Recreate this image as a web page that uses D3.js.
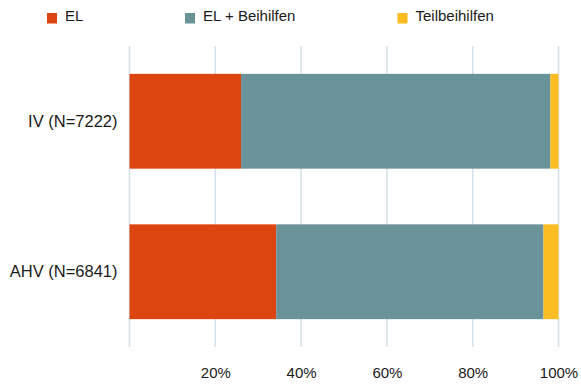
<!DOCTYPE html>
<html>
<head>
<meta charset="utf-8">
<script src="https://cdn.jsdelivr.net/npm/d3@7"></script>
<style>
  html, body { margin: 0; padding: 0; background: #fff; }
  svg text { font-family: "Liberation Sans", Arial, sans-serif; fill: #1a1a1a; }
</style>
</head>
<body>
<svg id="chart" width="581" height="385"></svg>
<script>
// Anteile je Gruppe (in %)
const categories = ["IV (N=7222)", "AHV (N=6841)"];
const seriesNames = ["EL", "EL + Beihilfen", "Teilbeihilfen"];
const elValues = [26.0, 34.2];
const elBeihilfenValues = [72.1, 62.3];
const teilbeihilfenValues = [1.9, 3.5];
const tickValues = [0, 20, 40, 60, 80, 100];
const tickLabels = ["", "20%", "40%", "60%", "80%", "100%"];
const colors = ["#dc4510", "#6a9299", "#fbbd22"];

const rows = categories.map((c, i) => ({
  cat: c,
  "EL": elValues[i],
  "EL + Beihilfen": elBeihilfenValues[i],
  "Teilbeihilfen": teilbeihilfenValues[i]
}));

const svg = d3.select("#chart");
const margin = { top: 46, right: 22, bottom: 38, left: 129.5 };
const W = 581, H = 385;
const innerH = H - margin.top - margin.bottom;

const x = d3.scaleLinear().domain([0, 100]).range([0, 429]);
const y = d3.scaleBand().domain(categories).range([0, innerH]).paddingInner(0.37).paddingOuter(0.185);

const g = svg.append("g").attr("transform", `translate(${margin.left},${margin.top})`);

// Gitterlinien
g.selectAll("line.grid").data(tickValues).join("line")
  .attr("class", "grid")
  .attr("x1", d => x(d)).attr("x2", d => x(d))
  .attr("y1", 0).attr("y2", innerH)
  .attr("stroke", "#d3e0e7").attr("stroke-width", 1.5);

// Gestapelte Balken
const stack = d3.stack().keys(seriesNames)(rows);
const color = d3.scaleOrdinal().domain(seriesNames).range(colors);

g.selectAll("g.layer").data(stack).join("g")
  .attr("class", "layer")
  .attr("fill", d => color(d.key))
  .selectAll("rect").data(d => d).join("rect")
  .attr("x", d => x(d[0]))
  .attr("width", d => x(d[1]) - x(d[0]))
  .attr("y", d => y(d.data.cat))
  .attr("height", y.bandwidth());

// X-Achse
const xAxis = d3.axisBottom(x).tickValues(tickValues)
  .tickFormat((d, i) => tickLabels[i]).tickSize(0).tickPadding(0);
const xg = g.append("g").attr("transform", `translate(0,${innerH + 30.5})`).call(xAxis);
xg.select(".domain").remove();
xg.selectAll("text").attr("font-size", 15).attr("dy", 0).attr("fill", "#1a1a1a")
  .style("font-family", "'Liberation Sans', Arial, sans-serif");

// Y-Achse
const yAxis = d3.axisLeft(y).tickSize(0).tickPadding(12);
const yg = g.append("g").call(yAxis);
yg.select(".domain").remove();
yg.selectAll("text").attr("font-size", 16.5).attr("fill", "#1a1a1a")
  .style("font-family", "'Liberation Sans', Arial, sans-serif");

// Legende
const legendX = [47, 185, 397.5];
const legend = svg.append("g").selectAll("g").data(seriesNames).join("g")
  .attr("transform", (d, i) => `translate(${legendX[i]},13)`);
legend.append("rect").attr("width", 10).attr("height", 10.5).attr("fill", d => color(d));
legend.append("text").attr("x", 18).attr("y", 8).attr("font-size", 15)
  .text(d => d);
</script>
</body>
</html>
